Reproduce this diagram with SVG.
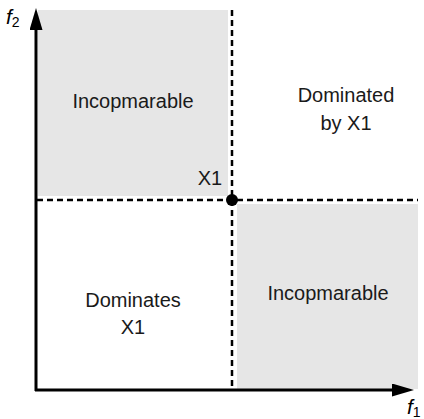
<svg xmlns="http://www.w3.org/2000/svg" width="424" height="419" viewBox="0 0 424 419">
<style>
.region{fill:#e6e6e6;stroke:none}
.lbl{font-family:"Liberation Sans",Arial,sans-serif;font-size:20px;fill:#1a1a1a;text-anchor:middle}
.ax{font-family:"Liberation Sans",Arial,sans-serif;font-size:21px;font-style:italic;fill:#000}
.dash{stroke:#000;stroke-width:2.5;stroke-dasharray:6,4;fill:none}
.axis{stroke:#000;stroke-width:3;fill:none}
</style>
<defs>
<marker id="arr" viewBox="0 0 22 13" refX="0" refY="6.5" markerWidth="22" markerHeight="13" markerUnits="userSpaceOnUse" orient="auto">
<path d="M0,0 L22,6.5 L0,13 Z" fill="#000"/>
</marker>
</defs>
<g id="region-top-left">
<rect class="region" x="38" y="10" width="190" height="186"/>
<text class="lbl" x="133" y="108">Incopmarable</text>
</g>
<g id="region-top-right">
<text class="lbl" x="346" y="102">Dominated</text>
<text class="lbl" x="346" y="130">by X1</text>
</g>
<g id="region-bottom-left">
<text class="lbl" x="133" y="307">Dominates</text>
<text class="lbl" x="133" y="334">X1</text>
</g>
<g id="region-bottom-right">
<rect class="region" x="237" y="204" width="181" height="185"/>
<text class="lbl" x="328" y="300">Incopmarable</text>
</g>
<g id="connectors">
<line class="dash" x1="232" y1="10" x2="232" y2="389"/>
<line class="dash" x1="37" y1="200" x2="418" y2="200"/>
<line class="axis" x1="36" y1="391" x2="36" y2="30" marker-end="url(#arr)"/>
<line class="axis" x1="35" y1="390" x2="392" y2="390" marker-end="url(#arr)"/>
</g>
<g id="X1">
<circle cx="232" cy="200" r="6" fill="#000"/>
<text class="lbl" x="210" y="185">X1</text>
</g>
<g id="axis-labels">
<text class="ax" x="6" y="24">f<tspan font-size="14" font-style="normal" dy="3">2</tspan></text>
<text class="ax" x="407" y="414">f<tspan font-size="14" font-style="normal" dy="3">1</tspan></text>
</g>
</svg>
